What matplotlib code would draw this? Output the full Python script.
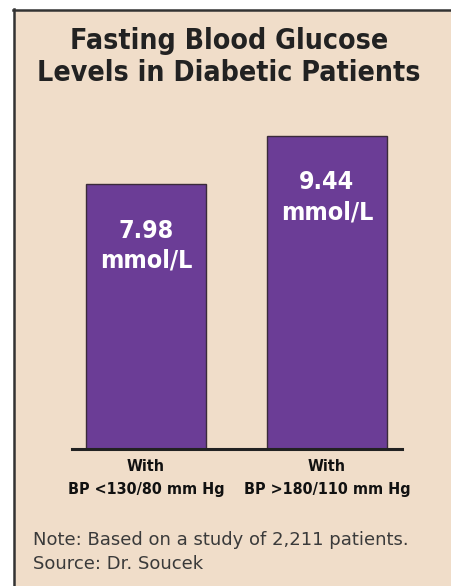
import matplotlib
matplotlib.use("Agg")
import matplotlib.pyplot as plt
from matplotlib.patches import Rectangle
from matplotlib.lines import Line2D

categories = ["With\nBP <130/80 mm Hg", "With\nBP >180/110 mm Hg"]
values = [7.98, 9.44]
value_labels = ["7.98\nmmol/L", "9.44\nmmol/L"]
title = "Fasting Blood Glucose\nLevels in Diabetic Patients"
note = "Note: Based on a study of 2,211 patients.\nSource: Dr. Soucek"

W, H = 452, 586
BG = "#F0DDC9"
PURPLE = "#6B3D96"
cond = dict(family="DejaVu Sans", fontstretch="condensed")

fig = plt.figure(figsize=(W / 100, H / 100), dpi=100)
fig.patch.set_facecolor("white")

def fx(px):
    return px / W

def fy(py):
    return 1 - py / H

# panel background and border
fig.patches.append(Rectangle((fx(14), 0), 1 - fx(14), fy(10), transform=fig.transFigure,
                             facecolor=BG, edgecolor="none", zorder=0))
fig.lines.append(Line2D([fx(14), fx(14)], [0, fy(9)], transform=fig.transFigure, color="#333333", lw=1.8))
fig.lines.append(Line2D([fx(13), 1], [fy(10), fy(10)], transform=fig.transFigure, color="#333333", lw=1.8))

# axes placement
x_left, x_right = 72, 402
y_base = 449
px_per_unit = 33.2
ymax = 10.0
ax = fig.add_axes([fx(x_left), fy(y_base), fx(x_right - x_left), ymax * px_per_unit / H])
ax.set_zorder(5)
ax.set_facecolor("none")
c0, c1 = 146, 327
spacing = c1 - c0
ax.set_xlim(-(c0 - x_left) / spacing, (x_right - c0) / spacing)
ax.set_ylim(0, ymax)
bw = 120 / spacing
xs = list(range(len(values)))
ax.bar(xs, values, width=bw, color=PURPLE, edgecolor="#3a2a3a", linewidth=1.0, zorder=2)
for s in ["top", "right", "left"]:
    ax.spines[s].set_visible(False)
ax.spines["bottom"].set_linewidth(2.2)
ax.spines["bottom"].set_color("#222222")
ax.spines["bottom"].set_zorder(3)
ax.set_yticks([])
ax.set_xticks(xs)
ax.set_xticklabels(categories, fontweight="bold", fontsize=11.5,
                   linespacing=1.7, color="#111111", **cond)
ax.tick_params(axis="x", length=0, pad=7)

for x, v, lab in zip(xs, values, value_labels):
    ax.annotate(lab, (x, v), xytext=(0, -25), textcoords="offset points",
                ha="center", va="top", color="white", fontsize=18, fontweight="bold",
                linespacing=1.3, **cond)

fig.text(fx(229), fy(57), title, ha="center", va="center", fontweight="bold",
         fontsize=20.4, color="#222222", linespacing=1.15, **cond)
fig.text(fx(33), fy(552), note, ha="left", va="center", family="DejaVu Sans",
         fontsize=13, color="#3a3a3a", linespacing=1.4)

fig.savefig("out.png", dpi=100, facecolor=fig.get_facecolor())
